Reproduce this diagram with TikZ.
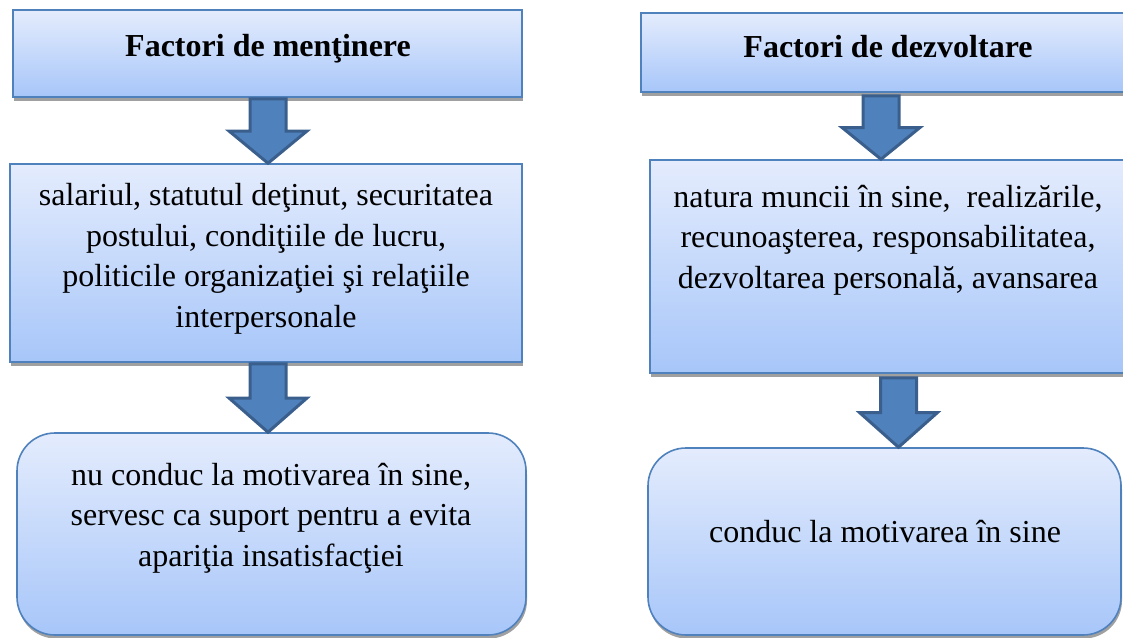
\documentclass[tikz,border=0pt]{standalone}
\usepackage{fontspec}
\setmainfont{Liberation Serif}
\usetikzlibrary{calc,shadows}
\definecolor{bfillA}{HTML}{E4ECFD}
\definecolor{bfillB}{HTML}{A7C6F9}
\definecolor{bline}{HTML}{4F81BD}
\definecolor{afill}{HTML}{4F81BD}
\definecolor{aline}{HTML}{3A5F8C}
\definecolor{shd}{HTML}{A0A0A0}
\newcommand\blockarrow[2]{%
  \draw[arr] let \p1=(#1), \p2=(#2), \p3=($(#1)!0.5!(#2)$) in
    (\x1-18pt,\y1) -- (\x1+18pt,\y1) -- (\x1+18pt,\y3) -- (\x1+39pt,\y3)
    -- (\x1,\y2) -- (\x1-39pt,\y3) -- (\x1-18pt,\y3) -- cycle;}
\begin{document}
\begin{tikzpicture}[x=1pt,y=-1pt,
  box/.style={draw=bline, line width=1.6pt, top color=bfillA, bottom color=bfillB,
    drop shadow={shadow xshift=1pt, shadow yshift=-3.5pt, fill=shd, opacity=1},
    inner sep=0pt, rectangle},
  rbox/.style={box, rounded corners=38pt},
  arr/.style={fill=afill, draw=aline, line width=3pt, line join=miter},
  txt/.style={font=\fontsize{32}{40.5}\selectfont, align=center, inner sep=0pt},
  ttl/.style={font=\fontsize{32}{40}\selectfont\bfseries, align=center, inner sep=0pt}]
\useasboundingbox (0,0) rectangle (1123,637);
% left column
\node[box, minimum width=509pt, minimum height=87pt] (b1) at (267.5,53.5) {};
\node[box, minimum width=512pt, minimum height=198pt] (b2) at (266,263) {};
\node[rbox, minimum width=509pt, minimum height=202pt] (b3) at (271.5,534) {};
% right column
\node[box, minimum width=484pt, minimum height=79pt] (b4) at (883,52.5) {};
\node[box, minimum width=475pt, minimum height=213pt] (b5) at (887.5,266.5) {};
\node[rbox, minimum width=473pt, minimum height=187pt] (b6) at (884.5,541.5) {};
% arrow anchors
\coordinate (a1s) at ($(b1.south)+(0.5,1)$);
\coordinate (a2s) at ($(b2.south)+(2,1)$);
\coordinate (a3s) at ($(b4.south)+(-2,3)$);
\coordinate (a4s) at ($(b5.south)+(11,4)$);
\blockarrow{a1s}{b2.north}
\blockarrow{a2s}{b3.north}
\blockarrow{a3s}{b5.north}
\blockarrow{a4s}{b6.north}
% texts
\node[ttl] (t1) at (268,49) {Factori de menţinere};
\node[txt] (t2) at (266,259) {salariul, statutul deţinut, securitatea\\postului, condiţiile de lucru,\\politicile organizaţiei şi relaţiile\\interpersonale};
\node[txt] (t3) at (271,518) {nu conduc la motivarea în sine,\\servesc ca suport pentru a evita\\apariţia insatisfacţiei};
\node[ttl] (t4) at (888,47) {Factori de dezvoltare};
\node[txt] (t5) at (888,240) {natura muncii în sine,\ \ realizările,\\recunoaşterea, responsabilitatea,\\dezvoltarea personală, avansarea};
\node[txt] (t6) at (885,532) {conduc la motivarea în sine};
\end{tikzpicture}
\end{document}
